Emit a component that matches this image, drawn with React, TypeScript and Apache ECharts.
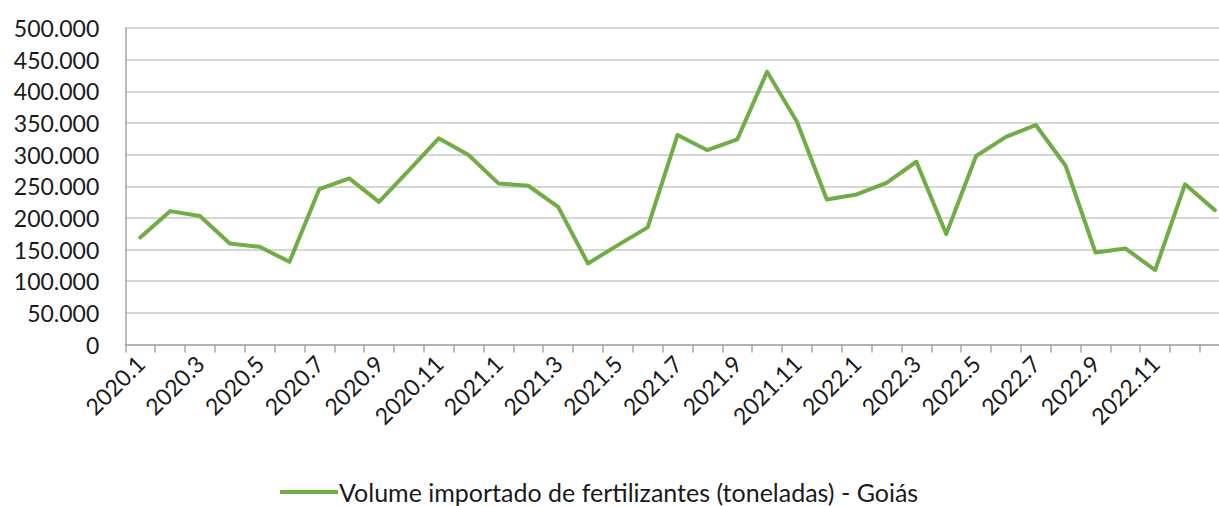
import React, { useEffect, useRef } from "react";
import * as echarts from "echarts";

const categories = [
  "2020.1", "2020.2", "2020.3", "2020.4", "2020.5", "2020.6", "2020.7", "2020.8", "2020.9", "2020.10", "2020.11", "2020.12",
  "2021.1", "2021.2", "2021.3", "2021.4", "2021.5", "2021.6", "2021.7", "2021.8", "2021.9", "2021.10", "2021.11", "2021.12",
  "2022.1", "2022.2", "2022.3", "2022.4", "2022.5", "2022.6", "2022.7", "2022.8", "2022.9", "2022.10", "2022.11", "2022.12",
  "2023.1",
];

const volume = [
  169000, 210700, 203000, 159700, 154300, 130600, 245500, 262400, 225400, 275000, 325700, 299300,
  254500, 250800, 217500, 128000, 157000, 185000, 331000, 307000, 324000, 431000, 352000, 229000,
  237000, 255500, 288700, 174400, 297700, 328000, 346700, 282400, 145500, 151800, 117500, 253000,
  212300,
];

const seriesName = "Volume importado de fertilizantes (toneladas) - Goiás";

const fmt = (v: number) => String(v).replace(/\B(?=(\d{3})+(?!\d))/g, ".");

export default function App() {
  const ref = useRef<HTMLDivElement>(null);
  useEffect(() => {
    if (!ref.current) return;
    const chart = echarts.init(ref.current, null, { renderer: "svg" });
    const font = "Lato, 'Open Sans', sans-serif";
    chart.setOption({
      animation: false,
      textStyle: { fontFamily: font },
      grid: { left: 125.3, top: 28, width: 1104.5, bottom: 161.5 },
      legend: {
        top: 478,
        left: 280,
        padding: 0,
        itemWidth: 58,
        itemHeight: 4,
        itemGap: 10,
        textStyle: { fontFamily: font, fontSize: 25, lineHeight: 28, color: "#1a1a1a", padding: [0, 0, 0, -4] },
        data: [{ name: seriesName, icon: "rect" }],
        itemStyle: { color: "#70AD47" },
      },
      xAxis: {
        type: "category",
        data: categories,
        boundaryGap: true,
        axisLine: { show: true, lineStyle: { color: "#A6A6A6", width: 1.5 } },
        axisTick: { show: true, interval: 0, length: 8, lineStyle: { color: "#A6A6A6", width: 1.5 } },
        axisLabel: {
          interval: (index: number) => index % 2 === 0 && index < 36,
          rotate: 45,
          margin: 15,
          fontFamily: font,
          fontSize: 23,
          color: "#1a1a1a",
        },
        splitLine: { show: false },
      },
      yAxis: {
        type: "value",
        min: 0,
        max: 500000,
        interval: 50000,
        axisLine: { show: true, lineStyle: { color: "#A6A6A6", width: 1.5 } },
        axisTick: { show: false },
        axisLabel: {
          formatter: (v: number) => fmt(v),
          margin: 26,
          fontFamily: font,
          fontSize: 23,
          color: "#1a1a1a",
        },
        splitLine: { show: true, lineStyle: { color: "#C8C8C8", width: 1.5 } },
      },
      series: [
        {
          name: seriesName,
          type: "line",
          data: volume,
          symbol: "none",
          lineStyle: { color: "#70AD47", width: 4, cap: "round", join: "round" },
          itemStyle: { color: "#70AD47" },
        },
      ],
    });
    return () => chart.dispose();
  }, []);
  return (
    <div style={{ position: "absolute", left: 0, top: 0, width: 1219, height: 506, overflow: "hidden" }}>
      <div ref={ref} style={{ width: 1240, height: 506 }} />
    </div>
  );
}
